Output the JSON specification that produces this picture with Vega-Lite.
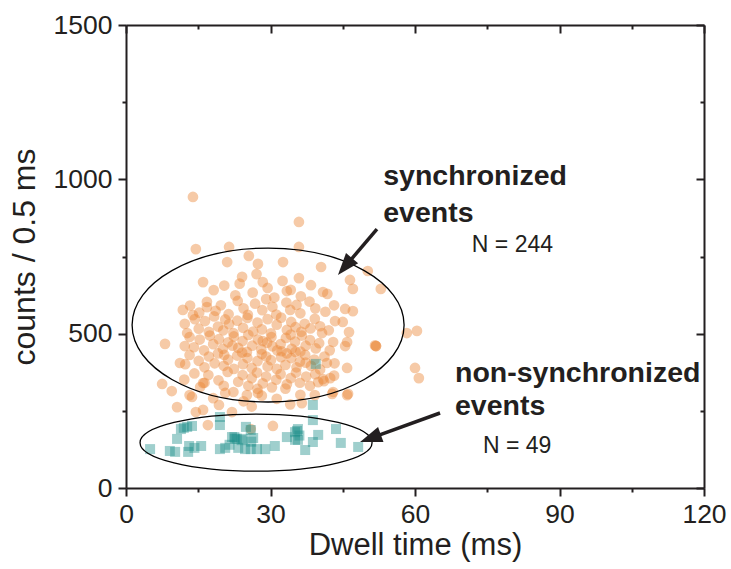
{
  "$schema": "https://vega.github.io/schema/vega-lite/v6.json",
  "autosize": "none",
  "width": 578,
  "height": 463,
  "padding": {"left": 126, "top": 25, "right": 27, "bottom": 81},
  "background": "white",
  "config": {
    "view": {"stroke": null},
    "font": "Liberation Sans",
    "axis": {
      "grid": false,
      "domainColor": "#231f20",
      "domainWidth": 2,
      "tickColor": "#231f20",
      "tickWidth": 2,
      "labelFont": "Liberation Sans",
      "labelFontSize": 26.5,
      "labelColor": "#231f20",
      "labelOverlap": false,
      "labelFlush": false,
      "titleFont": "Liberation Sans",
      "titleFontWeight": "normal",
      "titleColor": "#231f20"
    }
  },
  "datasets": {
    "sync": [
      {"time":13.9,"counts":943},{"time":35.9,"counts":862},{"time":14.5,"counts":774},{"time":21.4,"counts":781},{"time":21.0,"counts":732},{"time":25.5,"counts":752},{"time":27.4,"counts":726},{"time":32.6,"counts":732},{"time":35.9,"counts":781},{"time":16.0,"counts":667},{"time":24.1,"counts":684},{"time":28.4,"counts":667},{"time":35.9,"counts":680},{"time":40.5,"counts":716},{"time":50.2,"counts":703},{"time":40.9,"counts":635},{"time":33.4,"counts":638},{"time":46.5,"counts":674},{"time":47.1,"counts":645},{"time":52.9,"counts":645},{"time":45.5,"counts":580},{"time":47.1,"counts":573},{"time":45.0,"counts":538},{"time":46.3,"counts":505},{"time":45.9,"counts":473},{"time":45.5,"counts":460},{"time":58.3,"counts":502},{"time":60.4,"counts":509},{"time":51.9,"counts":460},{"time":51.9,"counts":460},{"time":51.7,"counts":462},{"time":43.0,"counts":473},{"time":40.7,"counts":502},{"time":60.0,"counts":389},{"time":60.8,"counts":356},{"time":45.9,"counts":389},{"time":41.7,"counts":405},{"time":40.9,"counts":353},{"time":42.4,"counts":356},{"time":39.9,"counts":343},{"time":45.9,"counts":301},{"time":43.0,"counts":311},
      {"time":8.1,"counts":467},{"time":11.2,"counts":405},{"time":7.5,"counts":337},{"time":9.5,"counts":314},{"time":10.6,"counts":262},{"time":14.5,"counts":246},{"time":16.0,"counts":253},{"time":13.7,"counts":295},{"time":15.4,"counts":327},{"time":22.0,"counts":246},{"time":20.6,"counts":308},{"time":12.7,"counts":502},{"time":11.8,"counts":577},{"time":16.8,"counts":586},{"time":12.2,"counts":460},{"time":13.9,"counts":560},{"time":16.0,"counts":340},
      {"time":17.0,"counts":204},{"time":30.5,"counts":201},{"time":25.9,"counts":191},{"time":36.5,"counts":275},{"time":39.2,"counts":301},{"time":42.8,"counts":305},{"time":46.1,"counts":305},{"time":25.1,"counts":301},{"time":27.4,"counts":308},
      {"time":18.2,"counts":641},{"time":20.4,"counts":656},{"time":22.7,"counts":624},{"time":23.6,"counts":662},{"time":26.3,"counts":633},{"time":27.1,"counts":693},{"time":29.4,"counts":648},{"time":30.8,"counts":617},{"time":32.5,"counts":671},{"time":34.2,"counts":642},{"time":36.3,"counts":621},{"time":38.4,"counts":657},{"time":41.8,"counts":629},
      {"time":13.3,"counts":591},{"time":15.2,"counts":568},{"time":16.8,"counts":603},{"time":18.6,"counts":574},{"time":19.7,"counts":592},{"time":21.3,"counts":563},{"time":23.2,"counts":606},{"time":24.4,"counts":582},{"time":25.3,"counts":561},{"time":26.8,"counts":597},{"time":28.3,"counts":576},{"time":29.1,"counts":612},{"time":30.4,"counts":587},{"time":31.2,"counts":562},{"time":33.3,"counts":601},{"time":34.1,"counts":577},{"time":35.4,"counts":593},{"time":36.2,"counts":566},{"time":38.1,"counts":604},{"time":39.3,"counts":582},{"time":41.4,"counts":571},{"time":43.2,"counts":592},
      {"time":12.2,"counts":532},{"time":14.3,"counts":547},{"time":15.1,"counts":516},{"time":16.4,"counts":541},{"time":17.2,"counts":506},{"time":18.3,"counts":556},{"time":19.1,"counts":523},{"time":20.2,"counts":511},{"time":20.6,"counts":546},{"time":21.4,"counts":531},{"time":22.3,"counts":502},{"time":23.1,"counts":542},{"time":24.3,"counts":519},{"time":25.2,"counts":551},{"time":26.4,"counts":507},{"time":27.3,"counts":536},{"time":28.2,"counts":514},{"time":29.4,"counts":547},{"time":30.1,"counts":501},{"time":31.3,"counts":529},{"time":32.2,"counts":552},{"time":33.4,"counts":512},{"time":34.3,"counts":538},{"time":35.2,"counts":521},{"time":36.4,"counts":506},{"time":37.1,"counts":532},{"time":38.3,"counts":517},{"time":39.2,"counts":548},{"time":40.3,"counts":524},{"time":42.1,"counts":511},{"time":43.4,"counts":541},
      {"time":13.2,"counts":489},{"time":14.1,"counts":456},{"time":15.3,"counts":481},{"time":16.2,"counts":446},{"time":17.4,"counts":494},{"time":18.1,"counts":466},{"time":19.3,"counts":482},{"time":20.1,"counts":451},{"time":21.2,"counts":472},{"time":22.4,"counts":491},{"time":23.3,"counts":454},{"time":24.2,"counts":476},{"time":25.1,"counts":441},{"time":25.4,"counts":496},{"time":26.2,"counts":461},{"time":27.4,"counts":481},{"time":28.1,"counts":449},{"time":29.3,"counts":471},{"time":30.2,"counts":489},{"time":31.4,"counts":446},{"time":32.1,"counts":466},{"time":33.2,"counts":486},{"time":34.4,"counts":451},{"time":35.1,"counts":474},{"time":36.2,"counts":442},{"time":36.5,"counts":494},{"time":37.3,"counts":461},{"time":38.2,"counts":479},{"time":39.4,"counts":452},{"time":40.1,"counts":469},{"time":42.3,"counts":446},{"time":22.1,"counts":461},{"time":28.4,"counts":476},{"time":32.3,"counts":443},{"time":34.2,"counts":497},{"time":30.4,"counts":459},
      {"time":12.3,"counts":401},{"time":13.2,"counts":431},{"time":15.1,"counts":412},{"time":16.3,"counts":391},{"time":17.2,"counts":426},{"time":18.4,"counts":404},{"time":19.1,"counts":436},{"time":20.3,"counts":396},{"time":21.2,"counts":416},{"time":22.4,"counts":386},{"time":23.1,"counts":429},{"time":24.3,"counts":401},{"time":25.2,"counts":421},{"time":26.1,"counts":389},{"time":27.3,"counts":411},{"time":28.2,"counts":434},{"time":29.4,"counts":394},{"time":30.1,"counts":414},{"time":31.3,"counts":386},{"time":32.2,"counts":424},{"time":33.1,"counts":399},{"time":34.3,"counts":421},{"time":35.4,"counts":391},{"time":36.1,"counts":409},{"time":37.2,"counts":431},{"time":38.4,"counts":396},{"time":39.1,"counts":416},{"time":40.3,"counts":384},{"time":41.2,"counts":426},{"time":43.3,"counts":404},{"time":24.1,"counts":439},{"time":33.4,"counts":436},{"time":35.2,"counts":441},{"time":29.1,"counts":426},{"time":20.4,"counts":431},{"time":37.3,"counts":406},
      {"time":12.1,"counts":351},{"time":14.2,"counts":371},{"time":16.3,"counts":341},{"time":17.1,"counts":366},{"time":19.2,"counts":349},{"time":20.3,"counts":331},{"time":21.1,"counts":376},{"time":23.3,"counts":344},{"time":24.2,"counts":366},{"time":25.4,"counts":331},{"time":26.1,"counts":356},{"time":27.2,"counts":374},{"time":28.4,"counts":339},{"time":29.1,"counts":361},{"time":30.3,"counts":326},{"time":31.2,"counts":351},{"time":32.1,"counts":369},{"time":33.4,"counts":336},{"time":34.2,"counts":356},{"time":35.3,"counts":374},{"time":36.1,"counts":341},{"time":37.4,"counts":361},{"time":38.2,"counts":331},{"time":39.3,"counts":369},{"time":41.1,"counts":346},{"time":43.2,"counts":364},{"time":27.3,"counts":321},{"time":33.1,"counts":322},
      {"time":13.2,"counts":301},{"time":18.1,"counts":291},{"time":22.3,"counts":311},{"time":24.4,"counts":281},{"time":28.2,"counts":299},{"time":31.3,"counts":289},{"time":34.1,"counts":271},{"time":36.2,"counts":302},{"time":19.3,"counts":269},{"time":26.1,"counts":264}
    ],
    "nonsync": [
      {"time":5.0,"counts":126},{"time":9.1,"counts":120},{"time":10.2,"counts":117},{"time":12.9,"counts":117},{"time":13.1,"counts":136},{"time":15.6,"counts":136},{"time":10.6,"counts":159},{"time":11.4,"counts":191},{"time":12.7,"counts":198},{"time":13.7,"counts":201},{"time":19.5,"counts":230},{"time":19.5,"counts":204},{"time":19.5,"counts":126},{"time":20.6,"counts":130},{"time":22.0,"counts":165},{"time":22.6,"counts":159},{"time":23.3,"counts":130},{"time":24.3,"counts":159},{"time":24.9,"counts":198},{"time":24.7,"counts":126},{"time":25.9,"counts":126},{"time":26.4,"counts":162},{"time":25.9,"counts":188},{"time":27.2,"counts":126},{"time":28.9,"counts":126},{"time":30.9,"counts":136},{"time":33.4,"counts":165},{"time":35.1,"counts":156},{"time":35.1,"counts":181},{"time":35.7,"counts":191},{"time":35.7,"counts":156},{"time":37.2,"counts":123},{"time":38.8,"counts":269},{"time":38.8,"counts":220},{"time":38.8,"counts":149},{"time":39.9,"counts":172},{"time":43.6,"counts":191},{"time":44.6,"counts":146},{"time":48.2,"counts":133},{"time":39.4,"counts":402},
      {"time":12.0,"counts":195},{"time":14.2,"counts":130},{"time":22.5,"counts":165},{"time":23.0,"counts":160},{"time":24.0,"counts":155},{"time":26.0,"counts":150},{"time":35.5,"counts":185},{"time":36.0,"counts":170},{"time":21.5,"counts":140}
    ]
  },
  "encoding": {
    "x": {"field": "time", "type": "quantitative", "scale": {"domain": [0, 120], "nice": false, "zero": false}, "axis": null},
    "y": {"field": "counts", "type": "quantitative", "scale": {"domain": [0, 1500], "nice": false, "zero": false}, "axis": null}
  },
  "layer": [
    {
      "data": {"name": "sync"},
      "mark": {"type": "point", "shape": "circle", "filled": true, "color": "#ec8a3c", "opacity": 0.45, "size": 115},
      "encoding": {
        "x": {"field": "time", "type": "quantitative", "scale": {"domain": [0, 120], "nice": false, "zero": false},
          "axis": {"orient": "bottom", "title": "Dwell time (ms)", "titleFontSize": 31, "format": "d", "values": [0,15,30,45,60,75,90,105,120],
            "labelExpr": "datum.value % 30 === 0 ? datum.label : ''",
            "tickSize": {"condition": {"test": "datum.value % 30 === 0", "value": 8}, "value": 4},
            "labelPadding": 5, "titlePadding": 3}},
        "y": {"field": "counts", "type": "quantitative", "scale": {"domain": [0, 1500], "nice": false, "zero": false},
          "axis": {"orient": "left", "title": "counts / 0.5 ms", "titleFontSize": 32, "format": "d", "values": [0,250,500,750,1000,1250,1500],
            "labelExpr": "datum.value % 500 === 0 ? datum.label : ''",
            "tickSize": {"condition": {"test": "datum.value % 500 === 0", "value": 8}, "value": 4},
            "labelPadding": 6, "titlePadding": 12}}
      }
    },
    {
      "data": {"name": "nonsync"},
      "mark": {"type": "point", "shape": "square", "filled": true, "color": "#1a8c88", "opacity": 0.42, "size": 100},
      "encoding": {
        "x": {"field": "time", "type": "quantitative", "scale": {"domain": [0, 120], "nice": false, "zero": false},
          "axis": {"orient": "top", "title": null, "labels": false, "values": [0,15,30,45,60,75,90,105,120],
            "tickSize": {"condition": {"test": "datum.value % 30 === 0", "value": -8}, "value": -4}}},
        "y": {"field": "counts", "type": "quantitative", "scale": {"domain": [0, 1500], "nice": false, "zero": false},
          "axis": {"orient": "right", "title": null, "labels": false, "values": [0,250,500,750,1000,1250,1500],
            "tickSize": {"condition": {"test": "datum.value % 500 === 0", "value": -8}, "value": -4}}}
      }
    },
    {
      "data": {"values": [{"time": 29.5, "counts": 528}]},
      "mark": {"type": "point", "shape": "M-1,0A1,0.566,0,1,0,1,0A1,0.566,0,1,0,-1,0Z", "filled": false, "color": "#000000", "opacity": 1, "strokeWidth": 1.3, "size": 73984}
    },
    {
      "data": {"values": [{"time": 27.0, "counts": 147}]},
      "mark": {"type": "point", "shape": "M-1,0A1,0.246,0,1,0,1,0A1,0.246,0,1,0,-1,0Z", "filled": false, "color": "#000000", "opacity": 1, "strokeWidth": 1.3, "size": 53824}
    },
    {
      "data": {"values": [{"time": 52.1, "counts": 839, "time2": 46.4, "counts2": 734}, {"time": 65.2, "counts": 243, "time2": 52.1, "counts2": 169}]},
      "mark": {"type": "rule", "color": "#231f20", "strokeWidth": 3.5},
      "encoding": {
        "x2": {"field": "time2"},
        "y2": {"field": "counts2"}
      }
    },
    {
      "data": {"values": [{"time": 44.0, "counts": 690}]},
      "mark": {"type": "point", "shape": "M0,0L0.36,1L-0.36,1Z", "filled": true, "color": "#231f20", "opacity": 1, "size": 1936, "angle": 220}
    },
    {
      "data": {"values": [{"time": 48.6, "counts": 149}]},
      "mark": {"type": "point", "shape": "M0,0L0.36,1L-0.36,1Z", "filled": true, "color": "#231f20", "opacity": 1, "size": 1936, "angle": 250}
    },
    {
      "data": {"values": [
        {"time": 53.4, "counts": 982, "label": "synchronized"},
        {"time": 53.4, "counts": 862, "label": "events"},
        {"time": 68.3, "counts": 343, "label": "non-synchronized"},
        {"time": 68.3, "counts": 237, "label": "events"}
      ]},
      "mark": {"type": "text", "align": "left", "baseline": "alphabetic", "font": "Liberation Sans", "fontWeight": "bold", "fontSize": 28.5, "color": "#231f20"},
      "encoding": {"text": {"field": "label"}}
    },
    {
      "data": {"values": [
        {"time": 71.8, "counts": 765, "label": "N = 244"},
        {"time": 74.1, "counts": 113, "label": "N = 49"}
      ]},
      "mark": {"type": "text", "align": "left", "baseline": "alphabetic", "font": "Liberation Sans", "fontSize": 23, "color": "#231f20"},
      "encoding": {"text": {"field": "label"}}
    }
  ],
  "resolve": {"axis": {"x": "independent", "y": "independent"}}
}
